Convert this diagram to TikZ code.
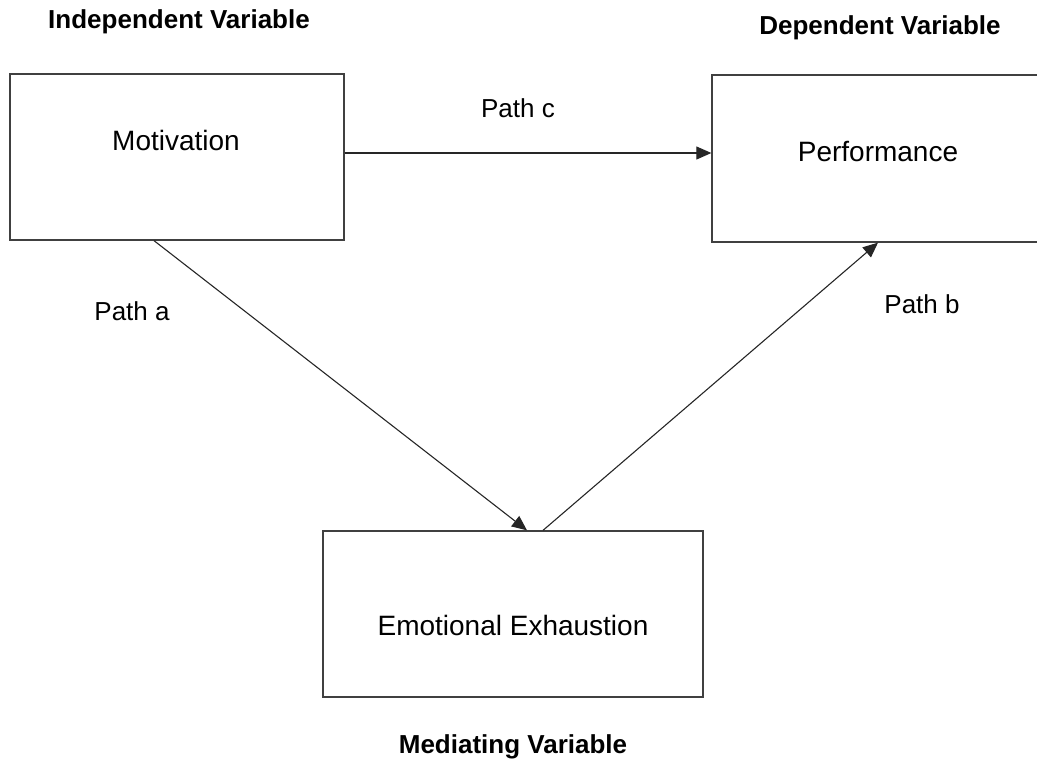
\documentclass[tikz,border=0pt]{standalone}
\usepackage{fontspec}
\setmainfont{Liberation Sans}
\usetikzlibrary{arrows.meta}

\begin{document}
\begin{tikzpicture}[x=1pt, y=-1pt,
        box/.style={draw=black!75, line width=1.3pt, inner sep=0pt, minimum height=166pt},
        boxtext/.style={font=\fontsize{28}{32}\selectfont},
        pathlabel/.style={font=\fontsize{26}{30}\selectfont},
        heading/.style={font=\fontsize{26}{30}\selectfont\bfseries},
        arrow/.style={draw=black!85, line width=1.1pt, -{Triangle[length=15pt,width=13pt]}}]
        \useasboundingbox (0,0) rectangle (1037,760);
        \node[box, minimum width=334pt] (motiv) at (177,157) {};
        \node[box, minimum width=332pt, minimum height=167pt] (perf) at (878,158.5) {};
        \node[box, minimum width=380pt] (exhaust) at (513,614) {};
        \node[boxtext] (motivtext) at (176,140) {Motivation};
        \node[boxtext] (perftext) at (878,152) {Performance};
        \node[boxtext] (exhausttext) at (513,625) {Emotional Exhaustion};
        \node[heading] (indep) at (179,22) {Independent Variable};
        \node[heading] (dep) at (880,28) {Dependent Variable};
        \node[heading] (med) at (513,747) {Mediating Variable};
        \node[pathlabel] (pathc) at (518,108) {Path c};
        \node[pathlabel] (patha) at (132,311) {Path a};
        \node[pathlabel] (pathb) at (922,304) {Path b};
        \draw[arrow] ([yshift=4pt]motiv.east) -- ([yshift=4pt]motiv.east -| perf.west);
        \draw[arrow] ([xshift=-23pt]motiv.south) -- ([xshift=14pt]exhaust.north);
        \draw[arrow] ([xshift=30pt]exhaust.north) -- (perf.south);
    \end{tikzpicture}
\end{document}
